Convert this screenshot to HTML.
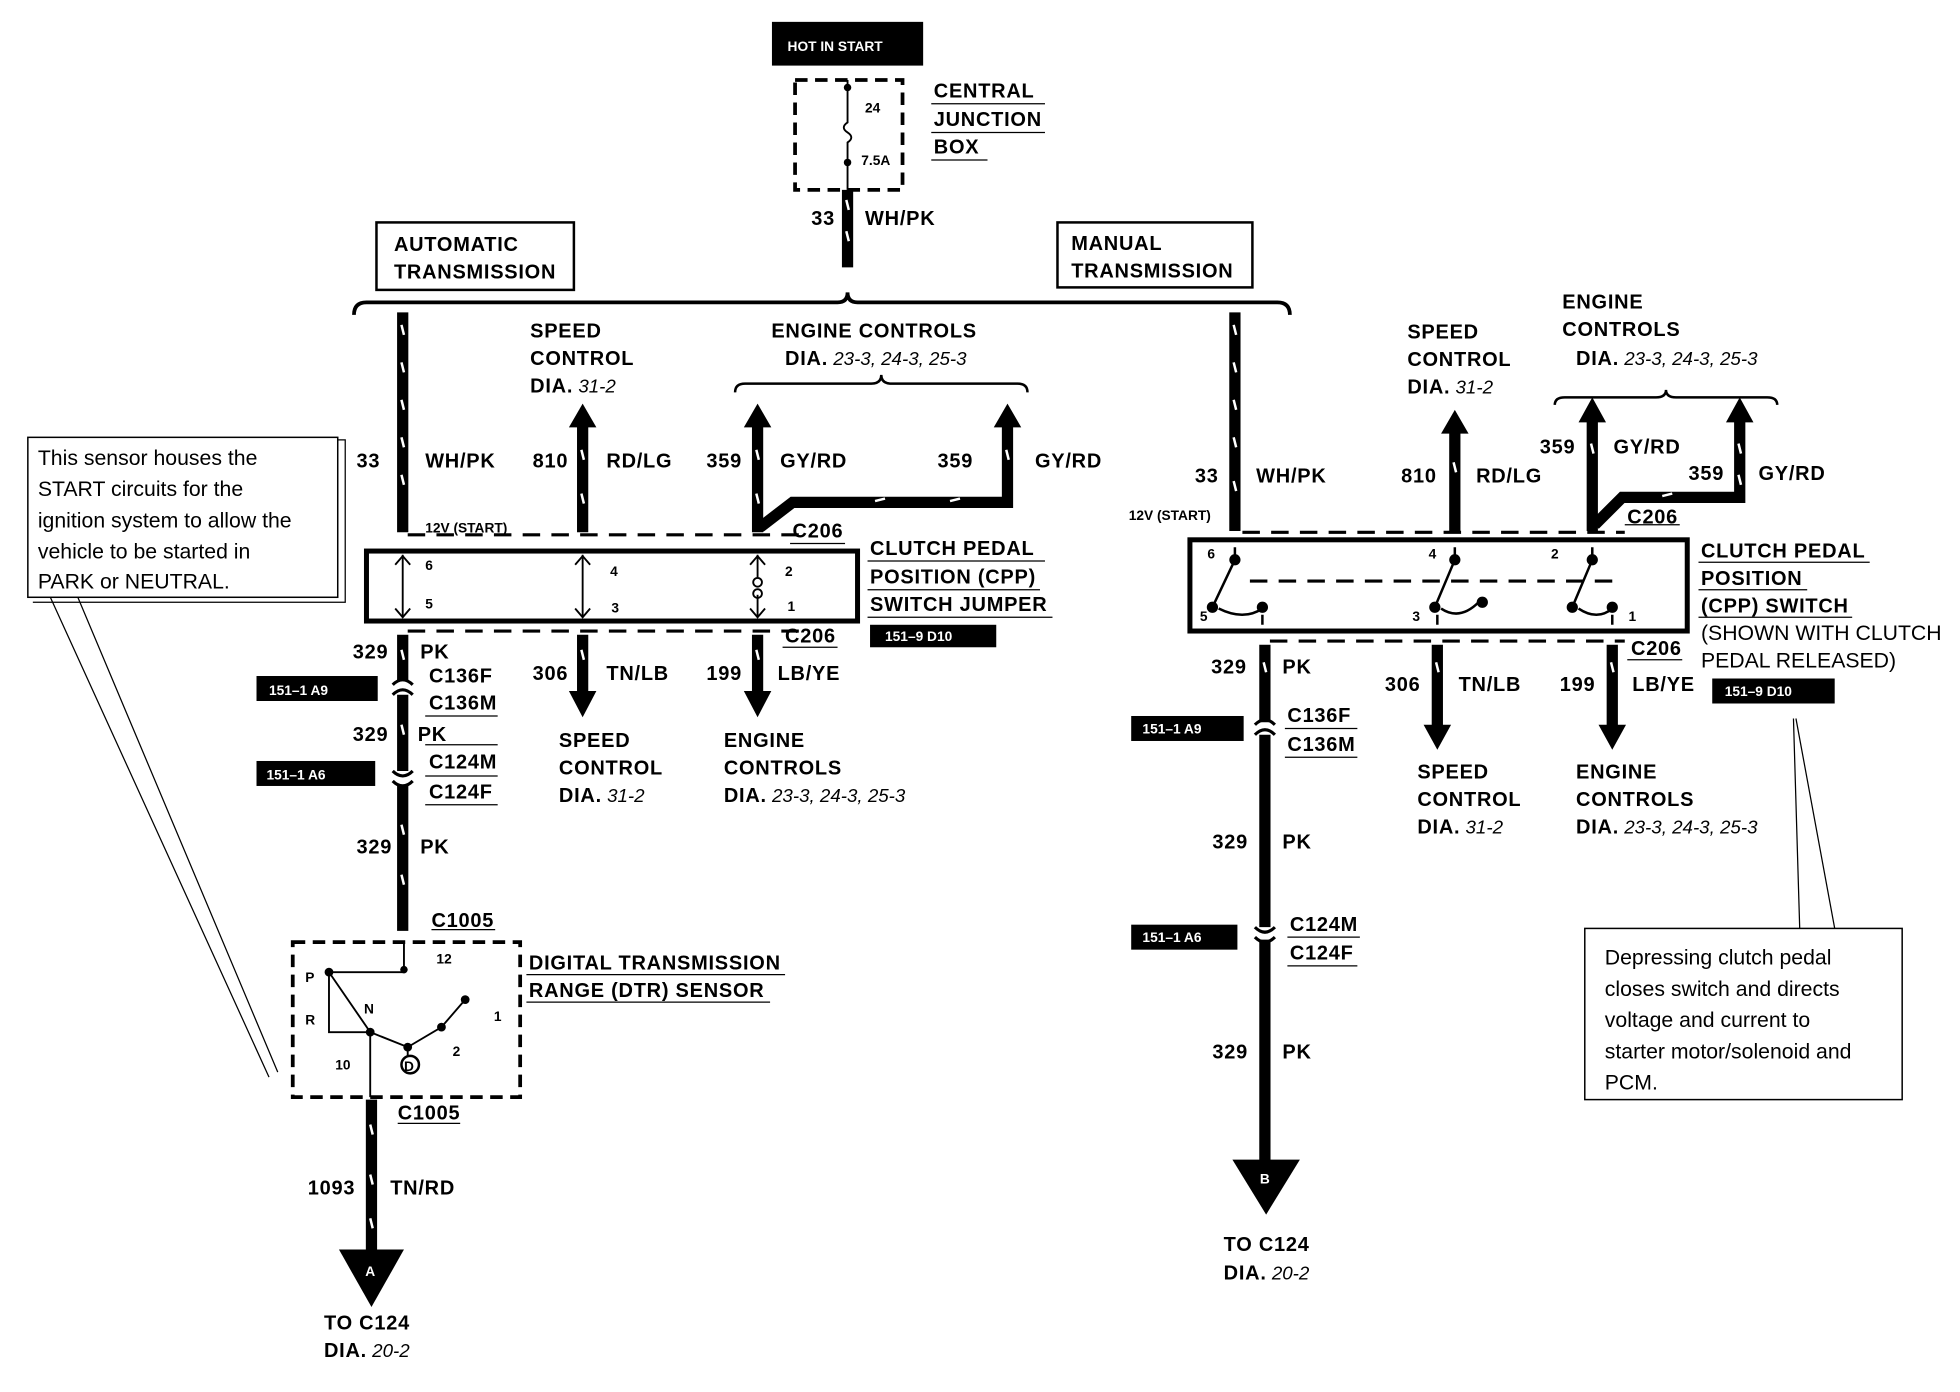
<!DOCTYPE html>
<html><head><meta charset="utf-8"><style>
html,body{margin:0;padding:0;background:#fff;}
svg{display:block;}
text{font-family:"Liberation Sans",Arial,sans-serif;fill:#000;}
.b{font-weight:bold;font-size:16px;letter-spacing:0.6px;}
.s{font-weight:bold;font-size:11px;}
.n{font-size:17px;}
.w{fill:#fff;font-weight:bold;font-size:11px;}
.i{font-style:italic;font-weight:normal;font-size:15px;letter-spacing:0;}
</style></head><body>
<svg width="1960" height="1392" viewBox="0 0 1568 1114" xmlns="http://www.w3.org/2000/svg">
<g stroke="#000" fill="none">
<rect x="618" y="18" width="120" height="34" fill="#000"/>
<rect x="636" y="64" width="86" height="88" stroke-width="3" stroke-dasharray="10,6"/>
<path d="M678 64 V98 q-6 4 0 8 q6 4 0 8 V152" stroke-width="1.5"/>
<line x1="678" y1="152" x2="678" y2="214" stroke-width="9"/>
<rect x="301" y="178" width="158" height="54" stroke-width="2"/>
<rect x="846" y="178" width="156" height="52" stroke-width="2"/>
<path d="M283 252 q0 -10 10 -10 H670 q8 0 8 -8 q0 8 8 8 H1022 q10 0 10 10" stroke-width="3"/>
<line x1="322" y1="250" x2="322" y2="426" stroke-width="9"/>
<line x1="466" y1="340" x2="466" y2="426" stroke-width="9"/>
<line x1="606" y1="340" x2="606" y2="426" stroke-width="9"/>
<path d="M806 340 V402 H634 L608 422" stroke-width="9"/>
<path d="M588 314 q0 -7 8 -7 H697 q8 0 8 -7 q0 7 8 7 H814 q8 0 8 7" stroke-width="2"/>
<line x1="326" y1="428" x2="640" y2="428" stroke-width="2.5" stroke-dasharray="14,9"/>
<rect x="293" y="441" width="393" height="56" stroke-width="4"/>
<line x1="322" y1="444" x2="322" y2="494" stroke-width="1.5"/>
<line x1="466" y1="444" x2="466" y2="494" stroke-width="1.5"/>
<line x1="606" y1="444" x2="606" y2="462" stroke-width="1.5"/>
<line x1="606" y1="476" x2="606" y2="494" stroke-width="1.5"/>
<circle cx="606" cy="466" r="3.5" stroke-width="1.5"/><circle cx="606" cy="475" r="3.5" stroke-width="1.5"/>
<path d="M316 452 l6 -7 6 7 M316 487 l6 7 6 -7 M460 452 l6 -7 6 7 M460 487 l6 7 6 -7 M600 452 l6 -7 6 7 M600 487 l6 7 6 -7" stroke-width="1.5"/>
<line x1="326" y1="505" x2="640" y2="505" stroke-width="2.5" stroke-dasharray="14,9"/>
<line x1="322" y1="508" x2="322" y2="545" stroke-width="9"/>
<line x1="322" y1="556" x2="322" y2="617" stroke-width="9"/>
<line x1="322" y1="628" x2="322" y2="745" stroke-width="9"/>
<path d="M314 548 q8 -8 16 0 M314 556 q8 -8 16 0 M314 617 q8 8 16 0 M314 625 q8 8 16 0" stroke-width="2.5"/>
<line x1="466" y1="508" x2="466" y2="555" stroke-width="9"/>
<line x1="606" y1="508" x2="606" y2="555" stroke-width="9"/>
<rect x="234" y="754" width="182" height="124" stroke-width="3" stroke-dasharray="10,6"/>
<path d="M323 754 V778 H263 V826 H296 M263 778 L296 826 L326 838 L353 822 L372 800 M296 826 V878 M326 838 V852" stroke-width="1.5"/>
<line x1="297" y1="880" x2="297" y2="1002" stroke-width="9"/>
<rect x="22" y="350" width="248" height="128" stroke-width="1.2"/>
<path d="M270 352 H276 V482 H26 M40 478 L215 862 M62 478 L222 858" stroke-width="1"/>
<line x1="988" y1="250" x2="988" y2="425" stroke-width="9"/>
<line x1="1164" y1="345" x2="1164" y2="425" stroke-width="9"/>
<line x1="1274" y1="335" x2="1274" y2="425" stroke-width="9"/>
<path d="M1392 335 V398 H1298 L1276 420" stroke-width="9"/>
<path d="M1244 324 q0 -6 8 -6 H1325 q8 0 8 -6 q0 6 8 6 H1414 q8 0 8 6" stroke-width="2"/>
<line x1="994" y1="426" x2="1300" y2="426" stroke-width="2.5" stroke-dasharray="14,9"/>
<rect x="952" y="432" width="398" height="73" stroke-width="4"/>
<line x1="1000" y1="465" x2="1290" y2="465" stroke-width="2.5" stroke-dasharray="14,9"/>
<path d="M988 438 V448 L970 486 M1164 438 V448 L1148 486 M1274 438 V448 L1258 486 M1010 492 V500 M1150 492 V500 M1290 492 V500" stroke-width="2"/>
<path d="M975 487 q20 10 35 0 M1153 487 q15 10 30 -5 M1263 487 q15 10 27 0" stroke-width="2"/>
<g fill="#000"><circle cx="988" cy="448" r="4"/><circle cx="970" cy="486" r="4"/><circle cx="1010" cy="486" r="4"/><circle cx="1164" cy="448" r="4"/><circle cx="1148" cy="486" r="4"/><circle cx="1186" cy="482" r="4"/><circle cx="1274" cy="448" r="4"/><circle cx="1258" cy="486" r="4"/><circle cx="1290" cy="486" r="4"/></g>
<line x1="1016" y1="513" x2="1300" y2="513" stroke-width="2.5" stroke-dasharray="14,9"/>
<line x1="1012" y1="516" x2="1012" y2="578" stroke-width="9"/>
<line x1="1012" y1="588" x2="1012" y2="742" stroke-width="9"/>
<line x1="1012" y1="752" x2="1012" y2="932" stroke-width="9"/>
<path d="M1004 580 q8 -8 16 0 M1004 588 q8 -8 16 0 M1004 742 q8 8 16 0 M1004 750 q8 8 16 0" stroke-width="2.5"/>
<line x1="1150" y1="516" x2="1150" y2="582" stroke-width="9"/>
<line x1="1290" y1="516" x2="1290" y2="582" stroke-width="9"/>
<rect x="1268" y="743" width="254" height="137" stroke-width="1.2"/>
<path d="M1435 575 L1440 743 M1437 575 L1468 743" stroke-width="1"/>
</g>
<g fill="#000">
<polygon points="455,342 466,323 477,342"/><polygon points="595,342 606,323 617,342"/><polygon points="795,342 806,323 817,342"/>
<polygon points="455,553 466,574 477,553"/><polygon points="595,553 606,574 617,553"/>
<polygon points="1153,347 1164,328 1175,347"/><polygon points="1263,338 1274,318 1285,338"/><polygon points="1381,338 1392,318 1403,338"/>
<polygon points="1139,580 1150,600 1161,580"/><polygon points="1279,580 1290,600 1301,580"/>
<polygon points="271,1000 323,1000 297,1046"/><polygon points="986,928 1040,928 1013,972"/>
<circle cx="678" cy="70" r="3"/><circle cx="678" cy="130" r="3"/>
<circle cx="263" cy="778" r="3.5"/><circle cx="296" cy="826" r="3.5"/><circle cx="326" cy="838" r="3.5"/><circle cx="353" cy="822" r="3.5"/><circle cx="372" cy="800" r="3.5"/><circle cx="323" cy="776" r="3"/>
<rect x="205" y="541" width="97" height="20"/><rect x="205" y="609" width="95" height="20"/>
<rect x="696" y="500" width="101" height="18"/><rect x="905" y="573" width="90" height="20"/><rect x="905" y="740" width="85" height="20"/><rect x="1370" y="543" width="98" height="20"/>
</g>
<circle cx="328" cy="852" r="7" fill="#fff" stroke="#000" stroke-width="2"/>
<g stroke="#fff" stroke-width="2">
<path d="M677 160 l2 8 M677 185 l2 8 M321 260 l2 8 M321 290 l2 8 M321 320 l2 8 M321 350 l2 8 M321 380 l2 8 M465 360 l2 8 M465 395 l2 8 M605 360 l2 8 M605 395 l2 8 M805 360 l2 8 M700 401 l8 -2 M760 401 l8 -2 M321 520 l2 8 M321 580 l2 8 M321 660 l2 8 M321 700 l2 8 M465 520 l2 8 M605 520 l2 8 M296 900 l2 8 M296 940 l2 8 M296 975 l2 8"/>
<path d="M987 260 l2 8 M987 290 l2 8 M987 320 l2 8 M987 350 l2 8 M987 385 l2 8 M1163 370 l2 8 M1273 355 l2 8 M1391 355 l2 8 M1391 380 l2 8 M1330 397 l8 -2 M1149 530 l2 8 M1289 530 l2 8 M1011 530 l2 8"/>
</g>
<text x="630" y="41" class="w" font-size="12">HOT IN START</text>
<text x="692" y="90" class="s" font-weight="normal">24</text><text x="689" y="132" class="s" font-weight="normal">7.5A</text>
<text x="747" y="78" class="b">CENTRAL</text><text x="747" y="101" class="b">JUNCTION</text><text x="747" y="123" class="b">BOX</text>
<g stroke="#000" stroke-width="1"><path d="M745 83 H836 M745 106 H836 M745 128 H790"/></g>
<text x="649" y="180" class="b">33</text><text x="692" y="180" class="b">WH/PK</text>
<text x="315" y="201" class="b">AUTOMATIC</text><text x="315" y="223" class="b">TRANSMISSION</text>
<text x="857" y="200" class="b">MANUAL</text><text x="857" y="222" class="b">TRANSMISSION</text>
<text x="424" y="270" class="b">SPEED</text><text x="424" y="292" class="b">CONTROL</text><text x="424" y="314" class="b">DIA.<tspan class="i"> 31-2</tspan></text>
<text x="617" y="270" class="b">ENGINE CONTROLS</text><text x="628" y="292" class="b">DIA.<tspan class="i"> 23-3, 24-3, 25-3</tspan></text>
<text x="285" y="374" class="b">33</text><text x="340" y="374" class="b">WH/PK</text>
<text x="426" y="374" class="b">810</text><text x="485" y="374" class="b">RD/LG</text>
<text x="565" y="374" class="b">359</text><text x="624" y="374" class="b">GY/RD</text>
<text x="750" y="374" class="b">359</text><text x="828" y="374" class="b">GY/RD</text>
<text x="340" y="426" class="s">12V (START)</text><text x="634" y="430" class="b">C206</text>
<text x="340" y="456" class="s" font-weight="normal">6</text><text x="340" y="487" class="s" font-weight="normal">5</text>
<text x="488" y="461" class="s" font-weight="normal">4</text><text x="489" y="490" class="s" font-weight="normal">3</text>
<text x="628" y="461" class="s" font-weight="normal">2</text><text x="630" y="489" class="s" font-weight="normal">1</text>
<text x="696" y="444" class="b">CLUTCH  PEDAL</text><text x="696" y="467" class="b">POSITION (CPP)</text><text x="696" y="489" class="b">SWITCH JUMPER</text>
<g stroke="#000" stroke-width="1"><path d="M694 449 H836 M694 472 H832 M694 494 H842 M632 435 H676 M626 518 H670 M340 573 H398 M340 596 H398 M340 621 H398 M340 644 H398 M345 744 H396 M318 899 H368 M421 780 H628 M421 802 H616 M1300 420 H1344 M1302 528 H1346 M1028 583 H1086 M1028 606 H1086 M1030 750 H1088 M1030 773 H1086 M1359 450 H1496 M1359 472 H1446 M1359 494 H1482"/></g>
<text x="708" y="513" class="w">151–9 D10</text>
<text x="628" y="514" class="b">C206</text>
<text x="282" y="527" class="b">329</text><text x="336" y="527" class="b">PK</text>
<text x="343" y="546" class="b">C136F</text><text x="343" y="568" class="b">C136M</text>
<text x="215" y="556" class="w">151–1 A9</text><text x="213" y="624" class="w">151–1 A6</text>
<text x="282" y="593" class="b">329</text><text x="334" y="593" class="b">PK</text>
<text x="343" y="615" class="b">C124M</text><text x="343" y="639" class="b">C124F</text>
<text x="285" y="683" class="b">329</text><text x="336" y="683" class="b">PK</text>
<text x="426" y="544" class="b">306</text><text x="485" y="544" class="b">TN/LB</text>
<text x="565" y="544" class="b">199</text><text x="622" y="544" class="b">LB/YE</text>
<text x="447" y="598" class="b">SPEED</text><text x="447" y="620" class="b">CONTROL</text><text x="447" y="642" class="b">DIA.<tspan class="i"> 31-2</tspan></text>
<text x="579" y="598" class="b">ENGINE</text><text x="579" y="620" class="b">CONTROLS</text><text x="579" y="642" class="b">DIA.<tspan class="i"> 23-3, 24-3, 25-3</tspan></text>
<text x="345" y="742" class="b">C1005</text>
<text x="423" y="776" class="b">DIGITAL TRANSMISSION</text><text x="423" y="798" class="b">RANGE (DTR) SENSOR</text>
<text x="349" y="771" class="s" font-weight="normal">12</text>
<text x="244" y="786" class="s" font-weight="normal">P</text><text x="291" y="811" class="s" font-weight="normal">N</text><text x="244" y="820" class="s" font-weight="normal">R</text>
<text x="395" y="817" class="s" font-weight="normal">1</text><text x="362" y="845" class="s" font-weight="normal">2</text><text x="268" y="856" class="s" font-weight="normal">10</text>
<text x="323" y="857" class="s">D</text>
<text x="318" y="896" class="b">C1005</text>
<text x="246" y="956" class="b">1093</text><text x="312" y="956" class="b">TN/RD</text>
<text x="292" y="1021" class="w" font-size="13">A</text>
<text x="259" y="1064" class="b">TO C124</text><text x="259" y="1086" class="b">DIA.<tspan class="i"> 20-2</tspan></text>
<text x="30" y="372" class="n">This sensor houses the</text><text x="30" y="397" class="n">START circuits for the</text><text x="30" y="422" class="n">ignition system to allow the</text><text x="30" y="447" class="n">vehicle to be started in</text><text x="30" y="471" class="n">PARK or NEUTRAL.</text>
<text x="1126" y="271" class="b">SPEED</text><text x="1126" y="293" class="b">CONTROL</text><text x="1126" y="315" class="b">DIA.<tspan class="i"> 31-2</tspan></text>
<text x="1250" y="247" class="b">ENGINE</text><text x="1250" y="269" class="b">CONTROLS</text><text x="1261" y="292" class="b">DIA.<tspan class="i"> 23-3, 24-3, 25-3</tspan></text>
<text x="956" y="386" class="b">33</text><text x="1005" y="386" class="b">WH/PK</text>
<text x="1121" y="386" class="b">810</text><text x="1181" y="386" class="b">RD/LG</text>
<text x="1232" y="363" class="b">359</text><text x="1291" y="363" class="b">GY/RD</text>
<text x="1351" y="384" class="b">359</text><text x="1407" y="384" class="b">GY/RD</text>
<text x="903" y="416" class="s">12V (START)</text><text x="1302" y="419" class="b">C206</text>
<text x="966" y="447" class="s" font-weight="normal">6</text><text x="1143" y="447" class="s" font-weight="normal">4</text><text x="1241" y="447" class="s" font-weight="normal">2</text>
<text x="960" y="497" class="s" font-weight="normal">5</text><text x="1130" y="497" class="s" font-weight="normal">3</text><text x="1303" y="497" class="s" font-weight="normal">1</text>
<text x="1361" y="446" class="b">CLUTCH PEDAL</text><text x="1361" y="468" class="b">POSITION</text><text x="1361" y="490" class="b">(CPP) SWITCH</text>
<text x="1361" y="512" class="n" font-size="16">(SHOWN WITH CLUTCH</text><text x="1361" y="534" class="n" font-size="16">PEDAL  RELEASED)</text>
<text x="1380" y="557" class="w">151–9 D10</text>
<text x="1305" y="524" class="b">C206</text>
<text x="969" y="539" class="b">329</text><text x="1026" y="539" class="b">PK</text>
<text x="1108" y="553" class="b">306</text><text x="1167" y="553" class="b">TN/LB</text>
<text x="1248" y="553" class="b">199</text><text x="1306" y="553" class="b">LB/YE</text>
<text x="914" y="587" class="w">151–1 A9</text><text x="914" y="754" class="w">151–1 A6</text>
<text x="1030" y="578" class="b">C136F</text><text x="1030" y="601" class="b">C136M</text>
<text x="970" y="679" class="b">329</text><text x="1026" y="679" class="b">PK</text>
<text x="1032" y="745" class="b">C124M</text><text x="1032" y="768" class="b">C124F</text>
<text x="970" y="847" class="b">329</text><text x="1026" y="847" class="b">PK</text>
<text x="1134" y="623" class="b">SPEED</text><text x="1134" y="645" class="b">CONTROL</text><text x="1134" y="667" class="b">DIA.<tspan class="i"> 31-2</tspan></text>
<text x="1261" y="623" class="b">ENGINE</text><text x="1261" y="645" class="b">CONTROLS</text><text x="1261" y="667" class="b">DIA.<tspan class="i"> 23-3, 24-3, 25-3</tspan></text>
<text x="1008" y="947" class="w" font-size="13">B</text>
<text x="979" y="1001" class="b">TO C124</text><text x="979" y="1024" class="b">DIA.<tspan class="i"> 20-2</tspan></text>
<text x="1284" y="772" class="n">Depressing clutch pedal</text><text x="1284" y="797" class="n">closes switch and directs</text><text x="1284" y="822" class="n">voltage and current to</text><text x="1284" y="847" class="n">starter motor/solenoid and</text><text x="1284" y="872" class="n">PCM.</text>
</svg>
</body></html>
